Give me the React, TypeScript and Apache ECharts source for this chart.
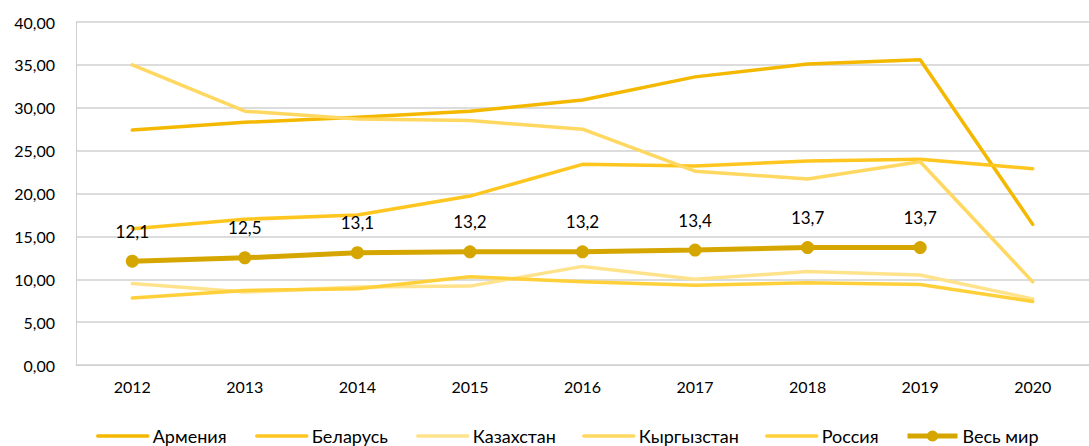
import React, { useEffect, useRef } from "react";
import * as echarts from "echarts";

const years = ["2012", "2013", "2014", "2015", "2016", "2017", "2018", "2019", "2020"];
const armenia = [27.4, 28.3, 28.9, 29.6, 30.9, 33.6, 35.1, 35.6, 16.4];
const belarus = [15.9, 17.0, 17.5, 19.7, 23.4, 23.2, 23.8, 24.0, 22.9];
const kazakhstan = [9.5, 8.5, 9.1, 9.2, 11.5, 10.0, 10.9, 10.5, 7.7];
const kyrgyzstan = [35.0, 29.6, 28.7, 28.5, 27.5, 22.6, 21.7, 23.7, 9.7];
const russia = [7.8, 8.7, 8.9, 10.3, 9.7, 9.3, 9.6, 9.4, 7.4];
const world = [12.1, 12.5, 13.1, 13.2, 13.2, 13.4, 13.7, 13.7, null];
const seriesNames = ["Армения", "Беларусь", "Казахстан", "Кыргызстан", "Россия", "Весь мир"];
const yTicks = { min: 0, max: 40, interval: 5 };

const FONT = "Lato";
const legendLefts = [96, 255, 416, 582, 765, 905];

export default function App() {
  const ref = useRef<HTMLDivElement>(null);
  useEffect(() => {
    if (!ref.current) return;
    const chart = echarts.init(ref.current, null, { renderer: "svg" });
    const plain = (name: string, data: any[], color: string) => ({
      name,
      type: "line",
      data,
      symbol: "none",
      showSymbol: false,
      lineStyle: { width: 3.5, color, cap: "round", join: "round" },
      itemStyle: { color },
      z: 2,
    });
    const legends = seriesNames.map((name, i) => {
      const isWorld = i === seriesNames.length - 1;
      return {
        left: legendLefts[i],
        top: 427,
        padding: 0,
        itemWidth: 50,
        itemHeight: 14,
        textStyle: { fontFamily: FONT, fontSize: 18, color: "#000" },
        lineStyle: { width: isWorld ? 5 : 3.5 },
        data: [isWorld ? { name } : { name, itemStyle: { opacity: 0 } }],
      };
    });
    chart.setOption({
      animation: false,
      textStyle: { fontFamily: FONT },
      grid: { left: 76, right: -13, top: 22, bottom: 81, containLabel: false },
      legend: legends,
      xAxis: {
        type: "category",
        data: years,
        boundaryGap: true,
        axisTick: { show: false },
        axisLine: { show: true, lineStyle: { color: "#d0d0d0", width: 1 } },
        axisLabel: { fontFamily: FONT, fontSize: 16, color: "#000", margin: 13 },
      },
      yAxis: {
        type: "value",
        min: yTicks.min,
        max: yTicks.max,
        interval: yTicks.interval,
        axisLine: { show: true, lineStyle: { color: "#d0d0d0", width: 1 } },
        axisTick: { show: false },
        splitLine: { lineStyle: { color: "#d0d0d0", width: 1.5 } },
        axisLabel: {
          fontFamily: FONT,
          fontSize: 16,
          color: "#000",
          margin: 21,
          formatter: (v: number) => v.toFixed(2).replace(".", ","),
        },
      },
      series: [
        plain(seriesNames[0], armenia, "#F4B800"),
        plain(seriesNames[1], belarus, "#FFC61F"),
        plain(seriesNames[2], kazakhstan, "#FFE38C"),
        plain(seriesNames[3], kyrgyzstan, "#FFD862"),
        plain(seriesNames[4], russia, "#FFD03A"),
        {
          name: seriesNames[5],
          type: "line",
          data: world,
          symbol: "circle",
          symbolSize: 13,
          showSymbol: true,
          lineStyle: { width: 5, color: "#D6A600" },
          itemStyle: { color: "#D6A600" },
          z: 5,
          label: {
            show: true,
            position: "top",
            distance: 15,
            fontFamily: FONT,
            fontSize: 17,
            color: "#000",
            formatter: (p: any) => String(p.value).replace(".", ","),
          },
        },
      ],
    });
    return () => chart.dispose();
  }, []);
  return (
    <div
      ref={ref}
      style={{ position: "fixed", left: 0, top: 0, width: 1089, height: 446, background: "#fff" }}
    />
  );
}
